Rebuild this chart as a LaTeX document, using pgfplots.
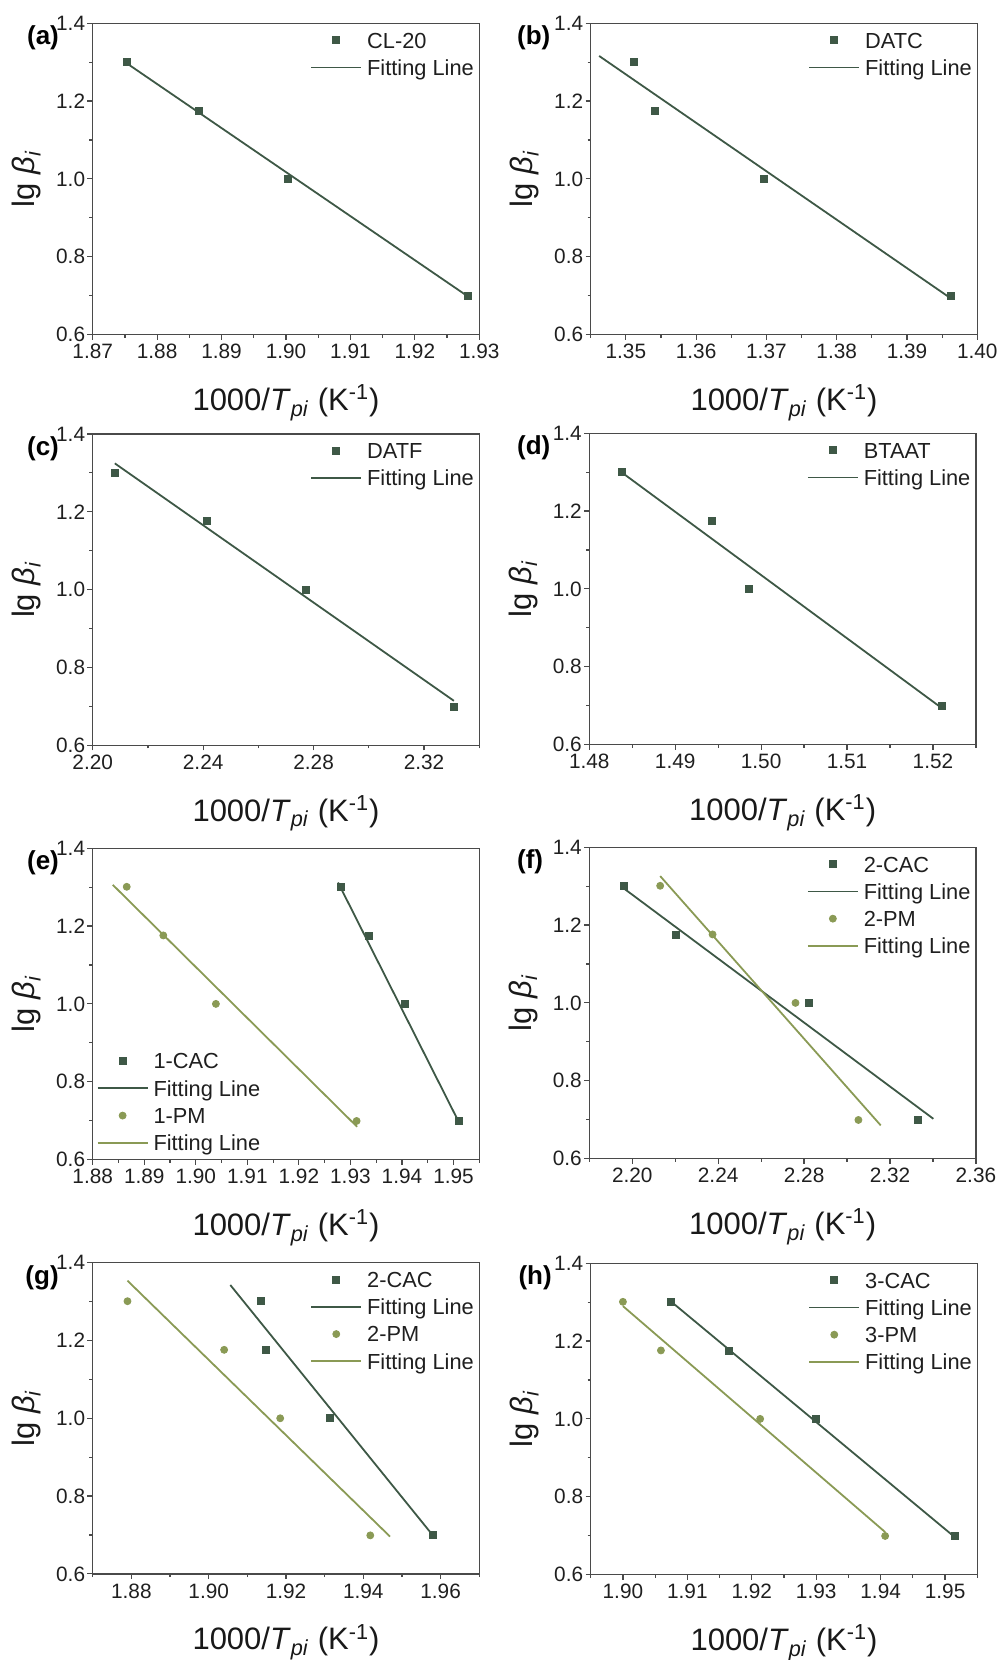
\documentclass[border=0pt]{standalone}
\usepackage{pgfplots}
\pgfplotsset{compat=1.18}
\usepackage{fontspec}
\setmainfont{Liberation Sans}

\definecolor{cacgreen}{HTML}{3E5846}
\definecolor{pmolive}{HTML}{8A9A55}
\definecolor{axisgray}{HTML}{4A4A4A}

\tikzset{
  panel/.style={anchor=base west, font=\fontsize{13}{15}\selectfont\bfseries,
    inner sep=0pt, xshift=#1, yshift=-10.75pt},
}

\pgfplotsset{
  kinetic/.style={
    scale only axis,
    width=193.3pt, height=155.6pt,
    clip=false,
    axis line style={axisgray, line width=0.65pt},
    every tick/.style={axisgray, line width=0.6pt},
    tick align=outside,
    tick pos=left,
    major tick length=2.6pt,
    minor tick length=1.6pt,
    ymin=0.6, ymax=1.4,
    ytick={0.6,0.8,1.0,1.2,1.4},
    minor ytick={0.7,0.9,1.1,1.3},
    tick label style={font=\fontsize{10.4}{12}\selectfont, text=black!88},
    /pgf/number format/assume math mode=true,
    yticklabel style={inner sep=1pt, /pgf/number format/.cd, fixed, fixed zerofill, precision=1},
    xticklabel style={inner sep=2pt, /pgf/number format/.cd, fixed, fixed zerofill, precision=2},
    xlabel={1000/\textit{T}\textsubscript{\textit{pi}} (K\textsuperscript{-1})},
    ylabel={lg \textit{β}\textsubscript{\textit{i}}},
    every axis x label/.style={at={(axis description cs:0.5,-0.244)}, anchor=base,
      font=\fontsize{15.5}{18}\selectfont, text=black!90},
    every axis y label/.style={at={(axis description cs:-0.150,0.5)}, anchor=base, rotate=90,
      font=\fontsize{15.5}{18}\selectfont, text=black!90},
    legend cell align=left,
    legend style={draw=none, fill=none, inner sep=0pt, outer sep=0pt, row sep=1.6pt,
      font=\fontsize{10.9}{13}\selectfont, text=black!88,
      nodes={inner xsep=2.5pt, inner ysep=0pt, text height=9.9pt, text depth=2.1pt},
      at={(0.9987,0.984)}, anchor=north east},
  },
  cacpts/.style={only marks, mark=square*, mark size=1.75pt, color=cacgreen,
    legend image code/.code={\draw[##1] plot coordinates {(12.5pt,0pt)};}},
  pmpts/.style={only marks, mark=*, mark size=1.75pt, color=pmolive,
    legend image code/.code={\draw[##1] plot coordinates {(12.5pt,0pt)};}},
  cacfit/.style={no marks, color=cacgreen, line width=0.9pt,
    legend image code/.code={\draw[##1] (0pt,0pt) -- (25pt,0pt);}},
  pmfit/.style={no marks, color=pmolive, line width=0.9pt,
    legend image code/.code={\draw[##1] (0pt,0pt) -- (25pt,0pt);}},
}

\begin{document}
\begin{tikzpicture}
\useasboundingbox (0,0) rectangle (499.5pt,830pt);

% (a) CL-20
\begin{axis}[kinetic, at={(46.35pt,818.35pt)}, anchor=north west,
  xmin=1.87, xmax=1.93,
  xtick={1.87,1.88,1.89,1.90,1.91,1.92,1.93},
  minor xtick={1.875,1.885,1.895,1.905,1.915,1.925}]
\addplot[cacpts] coordinates {(1.8753,1.301) (1.8865,1.176) (1.9003,1.000) (1.9283,0.699)};
\addlegendentry{CL-20}
\addplot[cacfit] coordinates {(1.8753,1.297) (1.9283,0.697)};
\addlegendentry{Fitting Line}
\node[panel=-33pt] at (rel axis cs:0,1) {(a)};
\end{axis}

% (b) DATC
\begin{axis}[kinetic, at={(295.35pt,818.35pt)}, anchor=north west,
  xmin=1.345, xmax=1.40,
  xtick={1.35,1.36,1.37,1.38,1.39,1.40},
  minor xtick={1.345,1.355,1.365,1.375,1.385,1.395}]
\addplot[cacpts] coordinates {(1.3512,1.301) (1.3542,1.176) (1.3697,1.000) (1.3963,0.699)};
\addlegendentry{DATC}
\addplot[cacfit] coordinates {(1.3462,1.316) (1.3963,0.692)};
\addlegendentry{Fitting Line}
\node[panel=-37pt] at (rel axis cs:0,1) {(b)};
\end{axis}

% (c) DATF
\begin{axis}[kinetic, at={(46.35pt,613pt)}, anchor=north west,
  xmin=2.20, xmax=2.34,
  xtick={2.20,2.24,2.28,2.32},
  minor xtick={2.22,2.26,2.30,2.34}]
\addplot[cacpts] coordinates {(2.2080,1.301) (2.2412,1.176) (2.2772,1.000) (2.3308,0.699)};
\addlegendentry{DATF}
\addplot[cacfit] coordinates {(2.2080,1.3245) (2.3308,0.714)};
\addlegendentry{Fitting Line}
\node[panel=-33pt] at (rel axis cs:0,1) {(c)};
\end{axis}

% (d) BTAAT
\begin{axis}[kinetic, at={(294.65pt,613.35pt)}, anchor=north west,
  xmin=1.48, xmax=1.525,
  xtick={1.48,1.49,1.50,1.51,1.52},
  minor xtick={1.485,1.495,1.505,1.515,1.525}]
\addplot[cacpts] coordinates {(1.4838,1.301) (1.4943,1.176) (1.4986,1.000) (1.5210,0.699)};
\addlegendentry{BTAAT}
\addplot[cacfit] coordinates {(1.4838,1.299) (1.5210,0.694)};
\addlegendentry{Fitting Line}
\node[panel=-36.3pt] at (rel axis cs:0,1) {(d)};
\end{axis}

% (e) 1-CAC and 1-PM
\begin{axis}[kinetic, at={(46.35pt,405.85pt)}, anchor=north west,
  xmin=1.88, xmax=1.955,
  xtick={1.88,1.89,1.90,1.91,1.92,1.93,1.94,1.95},
  minor xtick={1.885,1.895,1.905,1.915,1.925,1.935,1.945,1.955},
  legend style={at={(0.0104,0.0151)}, anchor=south west}]
\addplot[cacpts] coordinates {(1.9282,1.301) (1.9335,1.176) (1.9405,1.000) (1.9510,0.699)};
\addlegendentry{1-CAC}
\addplot[cacfit] coordinates {(1.9276,1.312) (1.9510,0.697)};
\addlegendentry{Fitting Line}
\addplot[pmpts] coordinates {(1.8866,1.301) (1.8937,1.176) (1.9039,1.000) (1.9312,0.699)};
\addlegendentry{1-PM}
\addplot[pmfit] coordinates {(1.8839,1.306) (1.9313,0.684)};
\addlegendentry{Fitting Line}
\node[panel=-33pt] at (rel axis cs:0,1) {(e)};
\end{axis}

% (f) 2-CAC and 2-PM
\begin{axis}[kinetic, at={(294.65pt,406.35pt)}, anchor=north west,
  xmin=2.18, xmax=2.36,
  xtick={2.20,2.24,2.28,2.32,2.36},
  minor xtick={2.18,2.22,2.26,2.30,2.34}]
\addplot[cacpts] coordinates {(2.1959,1.301) (2.2203,1.176) (2.2823,1.000) (2.3328,0.699)};
\addlegendentry{2-CAC}
\addplot[cacfit] coordinates {(2.1959,1.295) (2.3402,0.702)};
\addlegendentry{Fitting Line}
\addplot[pmpts] coordinates {(2.2130,1.301) (2.2374,1.176) (2.2760,1.000) (2.3053,0.699)};
\addlegendentry{2-PM}
\addplot[pmfit] coordinates {(2.2130,1.326) (2.3157,0.685)};
\addlegendentry{Fitting Line}
\node[panel=-36.3pt] at (rel axis cs:0,1) {(f)};
\end{axis}

% (g) 2-CAC and 2-PM
\begin{axis}[kinetic, at={(46.35pt,198.65pt)}, anchor=north west,
  xmin=1.87, xmax=1.97,
  xtick={1.88,1.90,1.92,1.94,1.96},
  minor xtick={1.87,1.89,1.91,1.93,1.95,1.97}]
\addplot[cacpts] coordinates {(1.9136,1.301) (1.9147,1.176) (1.9313,1.000) (1.9579,0.699)};
\addlegendentry{2-CAC}
\addplot[cacfit] coordinates {(1.9056,1.3426) (1.9579,0.700)};
\addlegendentry{Fitting Line}
\addplot[pmpts] coordinates {(1.8790,1.301) (1.9040,1.176) (1.9185,1.000) (1.9418,0.699)};
\addlegendentry{2-PM}
\addplot[pmfit] coordinates {(1.8790,1.3537) (1.9469,0.696)};
\addlegendentry{Fitting Line}
\node[panel=-33.8pt] at (rel axis cs:0,1) {(g)};
\end{axis}

% (h) 3-CAC and 3-PM
\begin{axis}[kinetic, at={(295.35pt,198.35pt)}, anchor=north west,
  xmin=1.895, xmax=1.955,
  xtick={1.90,1.91,1.92,1.93,1.94,1.95},
  minor xtick={1.895,1.905,1.915,1.925,1.935,1.945,1.955}]
\addplot[cacpts] coordinates {(1.9075,1.301) (1.9165,1.176) (1.9300,1.000) (1.9515,0.699)};
\addlegendentry{3-CAC}
\addplot[cacfit] coordinates {(1.9075,1.3013) (1.9515,0.696)};
\addlegendentry{Fitting Line}
\addplot[pmpts] coordinates {(1.9000,1.301) (1.9059,1.176) (1.9213,1.000) (1.9407,0.699)};
\addlegendentry{3-PM}
\addplot[pmfit] coordinates {(1.9000,1.290) (1.9407,0.709)};
\addlegendentry{Fitting Line}
\node[panel=-36.3pt] at (rel axis cs:0,1) {(h)};
\end{axis}
\end{tikzpicture}
\end{document}
